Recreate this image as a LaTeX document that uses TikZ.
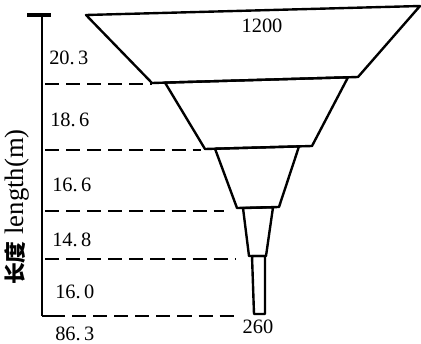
\documentclass[tikz,border=0pt]{standalone}
\usepackage{fontspec}
\usepackage{tikz}
\usetikzlibrary{positioning, calc}
\setmainfont{Liberation Serif}
\newfontfamily\cjk{Noto Sans CJK SC}

\begin{document}
\begin{tikzpicture}[
  x=0.025cm, y=-0.025cm,
  every node/.style={font=\fontsize{14.5}{16}\selectfont},
  stage/.style={draw, line width=1.7pt, line join=round},
  axis/.style={line width=1.3pt},
  level/.style={line width=1.1pt, dash pattern=on 10pt off 5pt},
  num/.style={anchor=west, inner sep=0pt},
]
\useasboundingbox (0,0) rectangle (421,343);

% Stage corners (top left, top right, bottom right, bottom left)
\coordinate (s1tl) at (86,15);   \coordinate (s1tr) at (420,6);
\coordinate (s1br) at (358,77);  \coordinate (s1bl) at (152,83);
\coordinate (s2tl) at (165,82.6);\coordinate (s2tr) at (348,77.3);
\coordinate (s2br) at (312,146); \coordinate (s2bl) at (205,149);
\coordinate (s3tl) at (215,148.7);\coordinate (s3tr) at (299,146.4);
\coordinate (s3br) at (279,207); \coordinate (s3bl) at (237,208);
\coordinate (s4tl) at (243,208); \coordinate (s4tr) at (273,207.3);
\coordinate (s4br) at (266,256); \coordinate (s4bl) at (249,256);
\coordinate (s5tl) at (252,256); \coordinate (s5tr) at (265,256);
\coordinate (s5br) at (265,314); \coordinate (s5bl) at (254,314);

% Stages
\draw[stage] (s1tl) -- (s1tr) -- (s1br) -- (s1bl) -- cycle;
\draw[stage] (s2tl) -- (s2tr) -- (s2br) -- (s2bl) -- cycle;
\draw[stage] (s3tl) -- (s3tr) -- (s3br) -- (s3bl) -- cycle;
\draw[stage] (s4tl) -- (s4tr) -- (s4br) -- (s4bl) -- cycle;
\draw[stage] (s5tl) -- (s5tr) -- (s5br) -- (s5bl) -- cycle;

% Length axis
\coordinate (top) at (42,15);
\coordinate (bot) at (42,316);
\draw[axis] (top) -- (bot);
\draw[line width=2.2pt] (27,15) -- (51,15);
\draw[axis] (bot) -- (65,316);

% Levels (dashed)
\draw[level] (45,84)  -- (152,84);
\draw[level] (45,150) -- (201,150);
\draw[level] (45,211) -- (224,211);
\draw[level] (45,259) -- (236,259);
\draw[level] (72,316) -- (238,316);

% Lengths
\node[num] (l1) at (49,58)  {20.\,3};
\node[num] (l2) at (50,120) {18.\,6};
\node[num] (l3) at (52,185) {16.\,6};
\node[num] (l4) at (52,240) {14.\,8};
\node[num] (l5) at (55,292) {16.\,0};
\node[num] (tot) at (55,334) {86.\,3};

% Widths
\node (wtop) at (262,26)  {1200};
\node (wbot) at (258,327) {260};

% Axis title
\node[rotate=90, font=\fontsize{19}{21}\selectfont] (ytitle) at (17,207)
  {{\cjk\bfseries\fontsize{15.5}{17}\selectfont 长度} length(m)};

\end{tikzpicture}
\end{document}
